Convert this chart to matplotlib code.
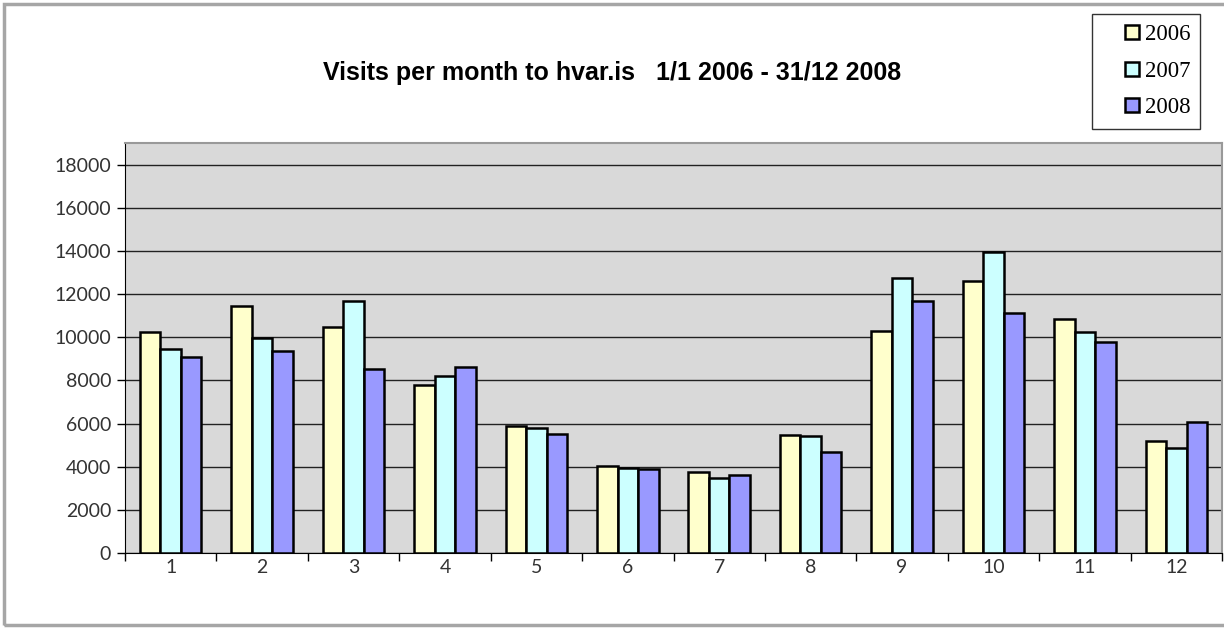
import matplotlib.pyplot as plt
import numpy as np
from matplotlib.patches import Rectangle, Patch
from matplotlib.legend_handler import HandlerPatch

months = ['1', '2', '3', '4', '5', '6', '7', '8', '9', '10', '11', '12']
years = ['2006', '2007', '2008']
v2006 = [10230, 11430, 10470, 7780, 5890, 4030, 3750, 5470, 10290, 12620, 10840, 5180]
v2007 = [9460, 9950, 11660, 8200, 5770, 3940, 3490, 5430, 12740, 13950, 10250, 4870]
v2008 = [9100, 9350, 8530, 8620, 5530, 3880, 3610, 4700, 11670, 11130, 9770, 6060]
colors = ['#ffffcc', '#ccffff', '#9999ff']

fig = plt.figure(figsize=(12.24, 6.28), dpi=100)
ax = fig.add_axes([0.1021, 0.1194, 0.8963, 0.6529])

x = np.arange(len(months))
w = 0.224
for i, vals in enumerate([v2006, v2007, v2008]):
    ax.bar(x + (i - 1) * w, vals, w, color=colors[i], edgecolor='black',
           linewidth=1.8, zorder=3)

ax.set_facecolor('#d9d9d9')
ax.set_xlim(-0.5, 11.5)
ax.set_ylim(0, 19000)
ax.set_yticks(range(0, 18001, 2000))
ax.yaxis.grid(True, color='#222222', linewidth=1.0, zorder=1)

# month labels centred, tick marks between groups
ax.set_xticks(np.arange(-0.5, 12, 1))
ax.set_xticklabels([])
ax.set_xticks(x, minor=True)
ax.set_xticklabels(months, minor=True)
ax.tick_params(axis='x', which='major', length=6, width=1, color='black')
ax.tick_params(axis='x', which='minor', length=0, pad=4)
ax.tick_params(axis='y', length=6, width=1, pad=4)
for lab in ax.get_xticklabels(minor=True) + ax.get_yticklabels():
    lab.set_fontfamily('Lato')
    lab.set_fontsize(14)
    lab.set_color('#333333')

ax.spines['left'].set_color('black')
ax.spines['bottom'].set_color('black')
ax.spines['top'].set_color('#999999')
ax.spines['right'].set_color('#999999')
ax.spines['top'].set_linewidth(1.5)
ax.spines['right'].set_linewidth(1.5)

fig.text(0.5, 0.884, 'Visits per month to hvar.is   1/1 2006 - 31/12 2008',
         ha='center', va='center', fontsize=18, fontweight='bold',
         family='Liberation Sans')


# small square swatch sitting at the right end of the handle box
def square(legend, orig_handle, xdescent, ydescent, width, height, fontsize):
    s = 10
    return Rectangle((-xdescent + width - s, -ydescent + (height - s) / 2), s, s)


handles = [Patch(facecolor=c, edgecolor='black', linewidth=1.8) for c in colors]
leg = fig.legend(handles, years, loc='upper left', bbox_to_anchor=(0.892, 0.978),
                 handler_map={Patch: HandlerPatch(patch_func=square)},
                 prop={'family': 'Liberation Serif', 'size': 16.5},
                 frameon=True, fancybox=False, edgecolor='black',
                 handlelength=1.6, handleheight=0.7, handletextpad=0.25,
                 labelspacing=0.68, borderpad=0.45, borderaxespad=0)
leg.get_frame().set_linewidth(1.0)

# outer chart border
fig.patches.append(Rectangle((0.0033, 0.005), 1.0, 0.989, transform=fig.transFigure,
                             fill=False, edgecolor='#a6a6a6', linewidth=2.5))

fig.savefig('out.png', dpi=100)
